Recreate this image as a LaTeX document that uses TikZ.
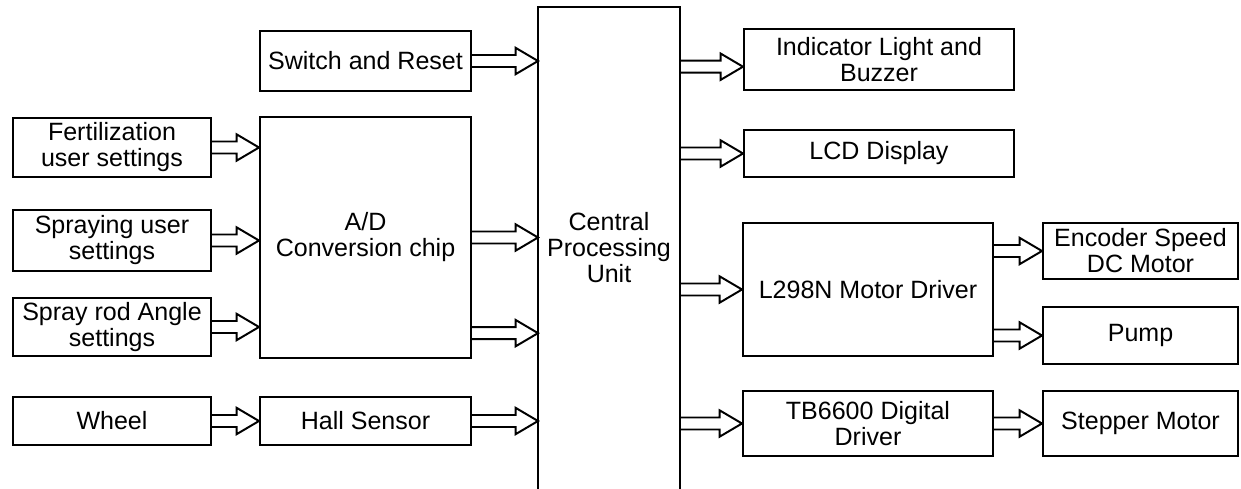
\documentclass[tikz,border=0pt]{standalone}
\usepackage{fontspec}
\setmainfont{Liberation Sans}
\usetikzlibrary{calc}

% open block arrow, horizontal, from #1 to #2 (y taken from #1)
\newcommand{\fatarrow}[2]{%
  \draw[fatline] let \p1=(#1), \p2=(#2) in
    (\x1,\y1+0.15cm) -- (\x2-0.56cm,\y1+0.15cm) -- (\x2-0.56cm,\y1+0.33cm)
    -- (\x2,\y1) -- (\x2-0.56cm,\y1-0.33cm) -- (\x2-0.56cm,\y1-0.15cm) -- (\x1,\y1-0.15cm);}

\begin{document}
\begin{tikzpicture}[
      x=0.025cm, y=-0.025cm,
      every node/.style={draw, rectangle, align=center, inner sep=1pt, line width=1.4pt,
        font=\fontsize{17.8pt}{18.5pt}\selectfont},
      fatline/.style={line width=1.4pt, line join=miter}
    ]
    \useasboundingbox (0,0) rectangle (1241,488);

    % inputs
    \node (sw) [minimum width=5.275cm, minimum height=1.5cm] at (365.5,61) {Switch and Reset};
    \node (fert) [minimum width=4.95cm, minimum height=1.475cm] at (112,147.5) {Fertilization\\user settings};
    \node (spray) [minimum width=4.95cm, minimum height=1.525cm] at (112,240.5) {Spraying user\\settings};
    \node (rod) [minimum width=4.95cm, minimum height=1.45cm] at (112,327) {Spray rod Angle\\settings};
    \node (wheel) [minimum width=4.95cm, minimum height=1.2cm] at (112,421) {Wheel};
    \node (ad) [minimum width=5.275cm, minimum height=6.025cm] at (365.5,237.5) {A/D\\Conversion chip};
    \node (hall) [minimum width=5.275cm, minimum height=1.2cm] at (365.5,421) {Hall Sensor};

    % processor, open at the bottom
    \node (cpu) [draw=none, minimum width=3.5cm, minimum height=12cm] at (609,248) {Central\\Processing\\Unit};
    \draw[line width=1.4pt] (cpu.south west) -- (cpu.north west) -- (cpu.north east) -- (cpu.south east);

    % outputs
    \node (ind) [minimum width=6.75cm, minimum height=1.525cm] at (879,59.5) {Indicator Light and\\Buzzer};
    \node (lcd) [minimum width=6.75cm, minimum height=1.175cm] at (879,153.5) {LCD Display};
    \node (l298) [minimum width=6.25cm, minimum height=3.325cm] at (868,289.5) {L298N Motor Driver};
    \node (tb) [minimum width=6.25cm, minimum height=1.625cm] at (868,423.5) {TB6600 Digital\\Driver};
    \node (enc) [minimum width=4.875cm, minimum height=1.4cm] at (1140.5,251) {Encoder Speed\\DC Motor};
    \node (pump) [minimum width=4.875cm, minimum height=1.425cm] at (1140.5,335.5) {Pump};
    \node (step) [minimum width=4.875cm, minimum height=1.625cm] at (1140.5,423.5) {Stepper Motor};

    \fatarrow{sw.east}{cpu.west}
    \fatarrow{fert.east}{ad.west}
    \fatarrow{spray.east}{ad.west}
    \fatarrow{rod.east}{ad.west}
    \fatarrow{wheel.east}{hall.west}
    \fatarrow{ad.east}{cpu.west}
    \fatarrow{[yshift=-2.39cm]ad.east}{cpu.west}
    \fatarrow{hall.east}{cpu.west}

    \fatarrow{[yshift=-0.18cm]cpu.east |- ind.west}{ind.west}
    \fatarrow{cpu.east |- lcd.west}{lcd.west}
    \fatarrow{cpu.east |- l298.west}{l298.west}
    \fatarrow{cpu.east |- tb.west}{tb.west}
    \fatarrow{l298.east |- enc.west}{enc.west}
    \fatarrow{l298.east |- pump.west}{pump.west}
    \fatarrow{tb.east}{step.west}
  \end{tikzpicture}
\end{document}
